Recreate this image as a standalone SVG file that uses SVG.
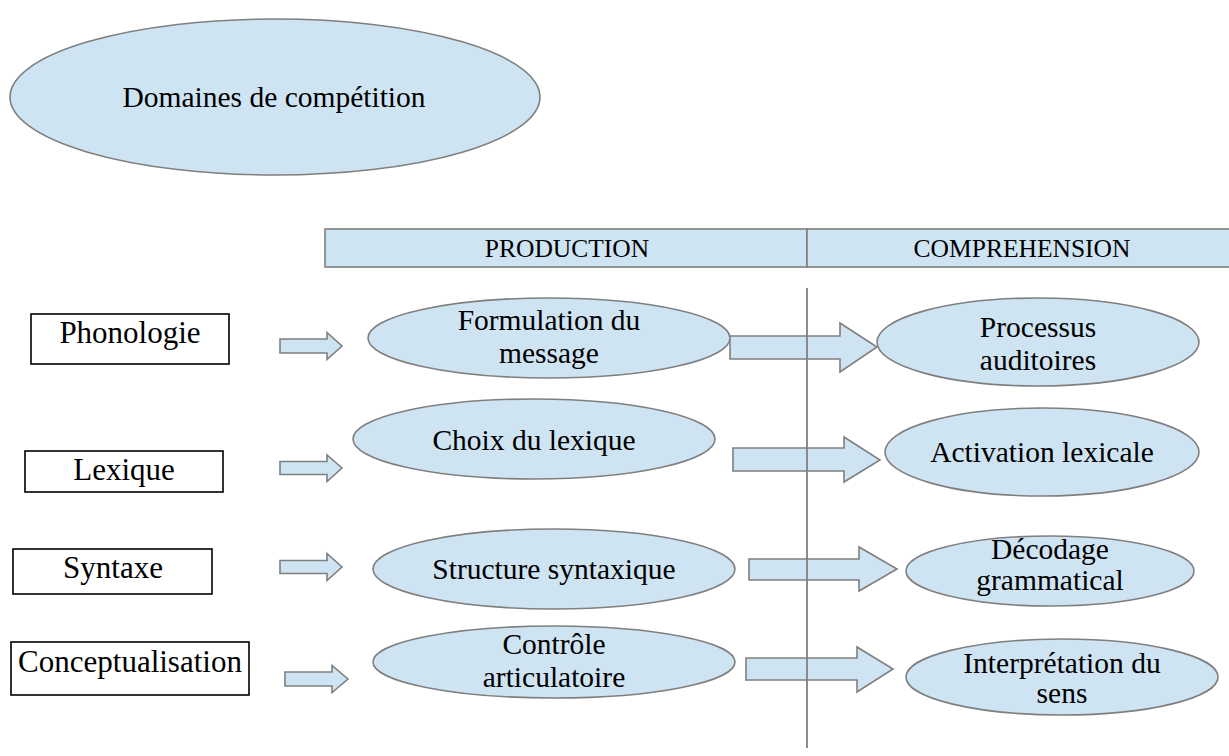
<svg xmlns="http://www.w3.org/2000/svg" width="1229" height="756" viewBox="0 0 1229 756">
<style>
.bg{fill:#ffffff}
.ell{fill:#cfe4f3;stroke:#7f7f7f;stroke-width:1.6}
.hdr{fill:#cfe4f3;stroke:#7f7f7f;stroke-width:1.6}
.box{fill:#ffffff;stroke:#000000;stroke-width:1.6}
.arr{fill:#cfe4f3;stroke:#7f7f7f;stroke-width:1.6;stroke-linejoin:miter}
.sep{stroke:#7f7f7f;stroke-width:1.8;fill:none}
.t{font-family:"Liberation Serif","Times New Roman",serif;font-size:29.5px;fill:#000;text-anchor:middle}
.h{font-family:"Liberation Serif","Times New Roman",serif;font-size:25.5px;fill:#000;text-anchor:middle}
.b{font-family:"Liberation Serif","Times New Roman",serif;font-size:31px;fill:#000;text-anchor:middle}
</style>
<rect class="bg" x="0" y="0" width="1229" height="756"/>

<g id="domaines">
<ellipse class="ell" cx="275" cy="97" rx="265" ry="78"/>
<text class="t" x="274" y="107">Domaines de compétition</text>
</g>

<g id="header">
<rect class="hdr" x="325" y="229" width="482" height="38"/>
<rect class="hdr" x="807" y="229" width="423" height="38"/>
<text class="h" x="567" y="257">PRODUCTION</text>
<text class="h" x="1022" y="257">COMPREHENSION</text>
</g>

<g id="phonologie">
<rect class="box" x="31" y="314" width="198" height="50"/>
<text class="b" x="130" y="343">Phonologie</text>
</g>
<g id="lexique">
<rect class="box" x="25" y="451" width="198" height="41"/>
<text class="b" x="124" y="480">Lexique</text>
</g>
<g id="syntaxe">
<rect class="box" x="13" y="549" width="199" height="45"/>
<text class="b" x="113" y="578">Syntaxe</text>
</g>
<g id="conceptualisation">
<rect class="box" x="11" y="642" width="238" height="53"/>
<text class="b" x="130" y="672">Conceptualisation</text>
</g>

<g id="formulation">
<ellipse class="ell" cx="549" cy="338" rx="181" ry="40"/>
<text class="t" x="549" y="330">Formulation du</text>
<text class="t" x="549" y="363">message</text>
</g>
<g id="choix">
<ellipse class="ell" cx="534" cy="439" rx="181" ry="40"/>
<text class="t" x="534" y="450">Choix du lexique</text>
</g>
<g id="structure">
<ellipse class="ell" cx="554" cy="569" rx="181" ry="40"/>
<text class="t" x="554" y="579">Structure syntaxique</text>
</g>
<g id="controle">
<ellipse class="ell" cx="554" cy="662" rx="181" ry="36"/>
<text class="t" x="554" y="654">Contrôle</text>
<text class="t" x="554" y="687">articulatoire</text>
</g>

<g id="processus">
<ellipse class="ell" cx="1038" cy="342" rx="161" ry="44"/>
<text class="t" x="1038" y="337">Processus</text>
<text class="t" x="1038" y="370">auditoires</text>
</g>
<g id="activation">
<ellipse class="ell" cx="1042" cy="452" rx="157" ry="44"/>
<text class="t" x="1042" y="462">Activation lexicale</text>
</g>
<g id="decodage">
<ellipse class="ell" cx="1050" cy="571" rx="144" ry="35"/>
<text class="t" x="1050" y="559">Décodage</text>
<text class="t" x="1050" y="590">grammatical</text>
</g>
<g id="interpretation">
<ellipse class="ell" cx="1062" cy="677" rx="156" ry="38"/>
<text class="t" x="1062" y="673">Interprétation du</text>
<text class="t" x="1062" y="703">sens</text>
</g>

<g id="connectors">
<path class="arr" d="M280,339 H327 V332.5 L342,346 L327,359.5 V353 H280 Z"/>
<path class="arr" d="M280,461.5 H327 V455 L342,468 L327,481.5 V474.5 H280 Z"/>
<path class="arr" d="M280,560.5 H327 V553.5 L342,567 L327,580.5 V573.5 H280 Z"/>
<path class="arr" d="M285,672 H332 V665.5 L348,679 L332,692.5 V686 H285 Z"/>
<path class="arr" d="M730,336 H840 V323 L877,347 L840,372 V359 H730 Z"/>
<path class="arr" d="M733,448 H844 V437 L880,460 L844,482 V471 H733 Z"/>
<path class="arr" d="M749,559 H859 V547 L897,569 L859,591 V580 H749 Z"/>
<path class="arr" d="M746,658 H857 V647 L893,669 L857,692 V680 H746 Z"/>
</g>

<g id="separator">
<line class="sep" x1="807" y1="288" x2="807" y2="748"/>
</g>
</svg>
